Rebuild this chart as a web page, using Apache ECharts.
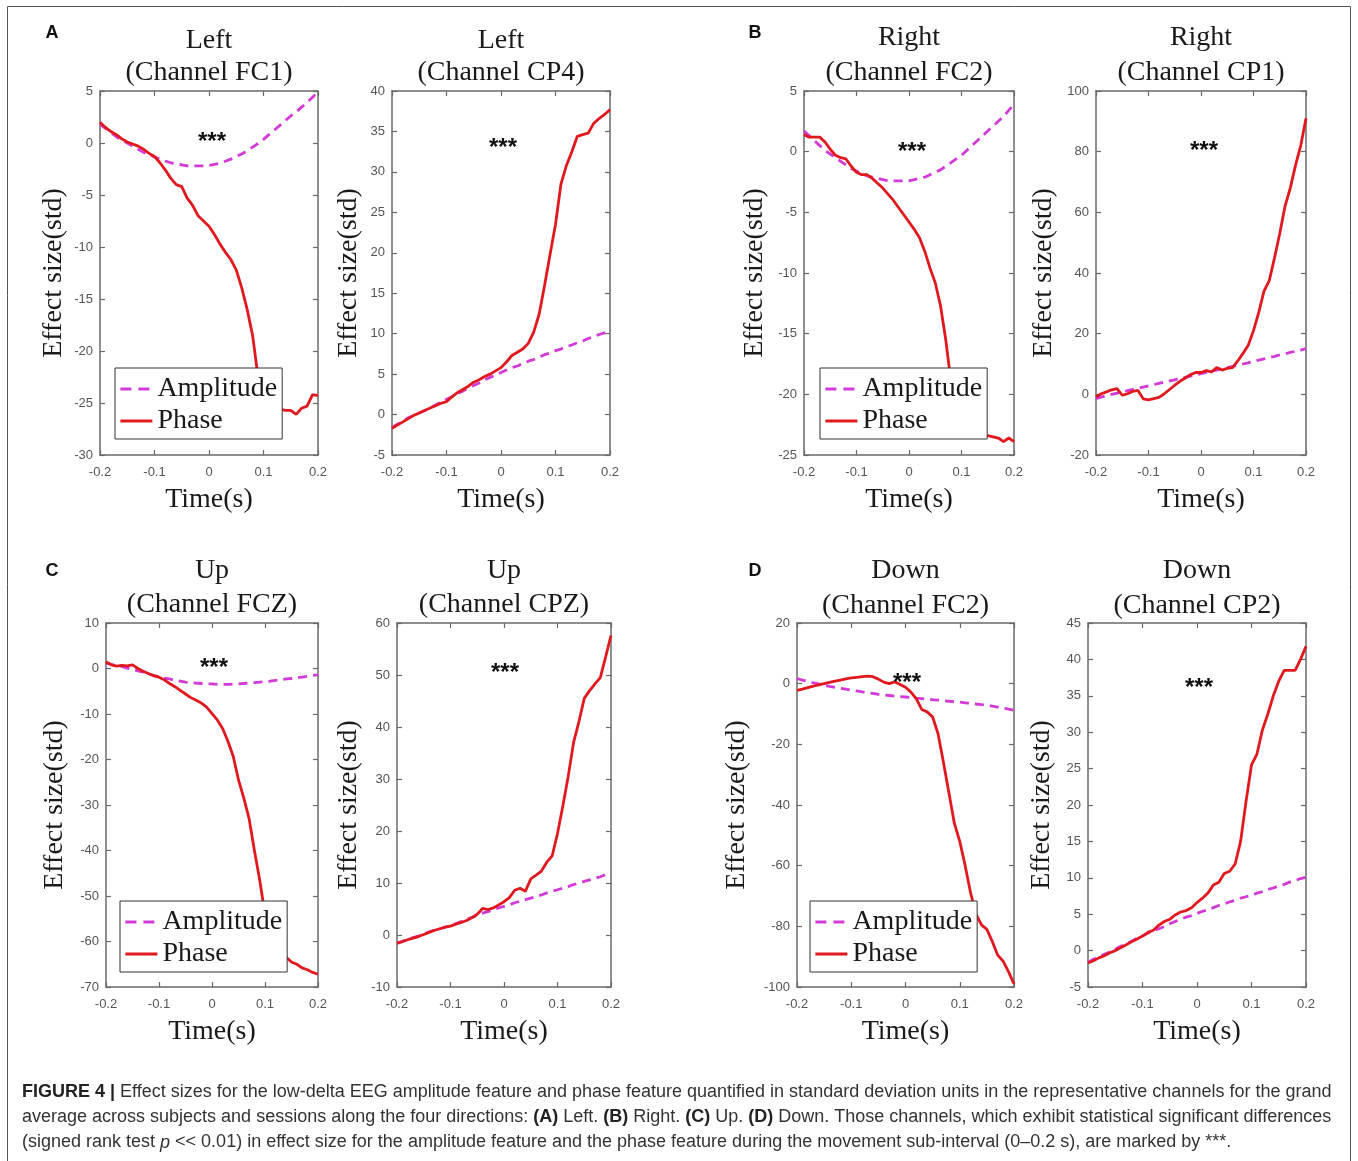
<!DOCTYPE html>
<html>
<head>
<meta charset="UTF-8" />
<title>Figure 4</title>
<style>
  * { margin: 0; padding: 0; }
  html, body { width: 100vw; height: 100vh; background: #fff; }
  .main { width: 1358px; height: 1161px; }
</style>
</head>
<body>
<div class="main"></div>
<script src="https://cdn.jsdelivr.net/npm/echarts@6/dist/echarts.min.js"></script>
<script>
// ---- data ----
var time = [-0.2, -0.19, -0.18, -0.17, -0.16, -0.15, -0.14, -0.13, -0.12, -0.11,
            -0.1, -0.09, -0.08, -0.07, -0.06, -0.05, -0.04, -0.03, -0.02, -0.01,
            0, 0.01, 0.02, 0.03, 0.04, 0.05, 0.06, 0.07, 0.08, 0.09,
            0.1, 0.11, 0.12, 0.13, 0.14, 0.15, 0.16, 0.17, 0.18, 0.19, 0.2];

var directions = ["Left", "Left", "Right", "Right", "Up", "Up", "Down", "Down"];
var channels = ["FC1", "CP4", "FC2", "CP1", "FCZ", "CPZ", "FC2", "CP2"];
var panelLetters = ["A", "B", "C", "D"];
var yMin = [-30, -5, -25, -20, -70, -10, -100, -5];
var yMax = [5, 40, 5, 100, 10, 60, 20, 45];
var yStep = [5, 5, 5, 20, 10, 10, 20, 5];
var seriesNames = ["Amplitude", "Phase"];

var ampLeftFC1 = [1.8, 1.4, 1.0, 0.6, 0.3, 0.0, -0.3, -0.6, -0.9, -1.1,
  -1.35, -1.55, -1.75, -1.9, -2.0, -2.1, -2.2, -2.2, -2.2, -2.2,
  -2.15, -2.05, -1.95, -1.75, -1.55, -1.3, -1.05, -0.75, -0.4, -0.05,
  0.35, 0.8, 1.25, 1.7, 2.15, 2.6, 3.0, 3.45, 3.9, 4.4, 4.9];
var phaseLeftFC1 = [2.0, 1.5, 1.1, 0.8, 0.4, 0.1, -0.1, -0.3, -0.6, -1.0,
  -1.3, -1.9, -2.6, -3.4, -4.0, -4.2, -5.3, -6.0, -7.0, -7.5,
  -8.0, -8.8, -9.7, -10.5, -11.2, -12.2, -13.9, -16.0, -18.5, -22.5,
  -24.0, -24.8, -25.3, -25.6, -25.7, -25.7, -26.1, -25.5, -25.3, -24.2, -24.3];

var ampLeftCP4 = [-1.6, -1.2, -0.8, -0.4, -0.1, 0.2, 0.5, 0.8, 1.2, 1.5,
  1.9, 2.2, 2.6, 2.9, 3.3, 3.6, 3.9, 4.3, 4.6, 4.9,
  5.2, 5.5, 5.8, 6.0, 6.3, 6.6, 6.8, 7.1, 7.4, 7.6,
  7.9, 8.1, 8.4, 8.6, 8.9, 9.1, 9.4, 9.6, 9.9, 10.1, 10.3];
var phaseLeftCP4 = [-1.7, -1.3, -0.9, -0.5, -0.1, 0.2, 0.5, 0.8, 1.1, 1.4,
  1.6, 2.2, 2.7, 3.1, 3.5, 4.0, 4.3, 4.7, 5.0, 5.4,
  5.8, 6.5, 7.3, 7.7, 8.1, 8.8, 10.2, 12.4, 16.0, 19.8,
  23.5, 28.5, 30.8, 32.5, 34.4, 34.6, 34.8, 36.0, 36.6, 37.1, 37.7];

var ampRightFC2 = [1.7, 1.3, 0.9, 0.5, 0.1, -0.2, -0.5, -0.8, -1.1, -1.4,
  -1.6, -1.8, -2.0, -2.1, -2.2, -2.3, -2.4, -2.4, -2.4, -2.4,
  -2.4, -2.3, -2.2, -2.1, -1.9, -1.7, -1.5, -1.2, -0.9, -0.6,
  -0.3, 0.1, 0.5, 0.9, 1.3, 1.7, 2.1, 2.5, 2.9, 3.4, 3.9];
var phaseRightFC2 = [1.4, 1.2, 1.2, 1.2, 0.8, 0.2, -0.3, -0.5, -0.6, -1.2,
  -1.7, -1.9, -1.9, -2.2, -2.6, -3.0, -3.5, -4.0, -4.6, -5.2,
  -5.8, -6.4, -7.1, -8.2, -9.6, -10.8, -12.7, -15.5, -19.0, -21.5,
  -22.6, -23.0, -23.2, -23.3, -23.4, -23.4, -23.5, -23.6, -23.9, -23.6, -23.9];

var ampRightCP1 = [-1.4, -0.9, -0.4, 0.0, 0.4, 0.8, 1.2, 1.6, 2.0, 2.4,
  2.8, 3.2, 3.6, 4.0, 4.4, 4.8, 5.2, 5.6, 6.0, 6.4,
  6.8, 7.2, 7.6, 8.0, 8.4, 8.8, 9.2, 9.6, 10.0, 10.4,
  10.9, 11.3, 11.7, 12.1, 12.5, 13.0, 13.4, 13.8, 14.2, 14.6, 15.1];
var phaseRightCP1 = [-0.9, 0.2, 0.8, 1.5, 1.9, -0.3, 0.2, 1.0, 1.3, -1.5,
  -1.8, -1.4, -1.0, 0.2, 1.6, 3.0, 4.3, 5.4, 6.5, 7.2,
  7.2, 7.8, 7.4, 8.8, 8.0, 8.6, 8.8, 11.0, 13.5, 16.2,
  21.0, 27.0, 34.0, 37.5, 45.0, 53.0, 62.0, 68.0, 75.5, 82.0, 91.0];

var ampUpFCZ = [1.2, 0.9, 0.6, 0.4, 0.1, -0.2, -0.5, -0.8, -1.2, -1.5,
  -1.8, -2.1, -2.3, -2.6, -2.8, -3.0, -3.1, -3.2, -3.3, -3.4,
  -3.4, -3.5, -3.5, -3.5, -3.4, -3.4, -3.3, -3.2, -3.1, -3.0,
  -2.9, -2.8, -2.6, -2.5, -2.3, -2.2, -2.0, -1.9, -1.7, -1.5, -1.4];
var phaseUpFCZ = [1.5, 0.8, 0.5, 0.7, 0.6, 0.8, 0.0, -0.6, -1.1, -1.6,
  -1.9, -2.5, -3.3, -4.0, -4.8, -5.6, -6.4, -7.0, -7.6, -8.5,
  -9.9, -11.3, -13.2, -16.0, -19.3, -24.5, -28.5, -33.0, -40.0, -46.5,
  -54.0, -58.5, -61.0, -62.5, -63.5, -64.5, -65.0, -65.8, -66.2, -66.8, -67.2];

var ampUpCPZ = [-1.5, -1.2, -0.8, -0.5, -0.2, 0.2, 0.6, 0.9, 1.2, 1.5,
  1.8, 2.2, 2.6, 3.0, 3.4, 3.8, 4.2, 4.5, 4.9, 5.2,
  5.5, 5.8, 6.2, 6.5, 6.8, 7.1, 7.4, 7.7, 8.1, 8.4,
  8.7, 9.0, 9.3, 9.7, 10.0, 10.3, 10.6, 10.9, 11.2, 11.6, 11.9];
var phaseUpCPZ = [-1.6, -1.3, -0.9, -0.6, -0.3, 0.1, 0.5, 0.9, 1.2, 1.5,
  1.7, 2.1, 2.4, 2.8, 3.3, 4.0, 5.1, 4.9, 5.2, 5.8,
  6.4, 7.2, 8.6, 9.0, 8.4, 10.8, 11.5, 12.3, 14.0, 15.2,
  19.5, 24.8, 30.5, 37.0, 41.0, 45.5, 47.0, 48.3, 49.5, 53.5, 57.6];

var ampDownFC2 = [1.7, 1.2, 0.7, 0.3, -0.1, -0.5, -0.9, -1.2, -1.5, -1.8,
  -2.1, -2.4, -2.7, -3.0, -3.2, -3.5, -3.7, -3.9, -4.1, -4.3,
  -4.4, -4.6, -4.8, -4.9, -5.1, -5.3, -5.4, -5.6, -5.8, -5.9,
  -6.1, -6.3, -6.5, -6.7, -6.9, -7.1, -7.4, -7.7, -8.0, -8.4, -8.8];
var phaseDownFC2 = [-2.2, -1.8, -1.3, -0.8, -0.4, 0.0, 0.4, 0.8, 1.2, 1.6,
  1.9, 2.1, 2.3, 2.5, 2.3, 1.5, 0.5, 0.0, 0.6, -0.3,
  -1.2, -2.8, -5.0, -8.5, -9.3, -11.0, -16.5, -26.0, -36.0, -46.0,
  -52.0, -60.0, -69.0, -76.0, -79.5, -81.0, -85.0, -89.5, -91.5, -95.0, -99.0];

var ampDownCP2 = [-1.6, -1.2, -0.9, -0.5, -0.2, 0.2, 0.6, 0.9, 1.3, 1.7,
  2.0, 2.4, 2.7, 3.0, 3.3, 3.7, 4.0, 4.3, 4.6, 4.8,
  5.1, 5.4, 5.6, 5.9, 6.2, 6.4, 6.7, 6.9, 7.2, 7.4,
  7.6, 7.9, 8.1, 8.4, 8.6, 8.9, 9.1, 9.4, 9.6, 9.9, 10.1];
var phaseDownCP2 = [-1.7, -1.4, -1.0, -0.7, -0.3, 0.0, 0.4, 0.8, 1.2, 1.6,
  2.0, 2.5, 2.8, 3.5, 4.0, 4.3, 4.9, 5.3, 5.5, 5.9,
  6.6, 7.2, 7.9, 9.0, 9.4, 10.6, 10.9, 11.9, 15.0, 20.5,
  25.5, 27.0, 30.3, 32.5, 35.0, 37.0, 38.5, 38.5, 38.5, 40.0, 41.8];

var ampData = [ampLeftFC1, ampLeftCP4, ampRightFC2, ampRightCP1, ampUpFCZ, ampUpCPZ, ampDownFC2, ampDownCP2];
var phaseData = [phaseLeftFC1, phaseLeftCP4, phaseRightFC2, phaseRightCP1, phaseUpFCZ, phaseUpCPZ, phaseDownFC2, phaseDownCP2];

// ---- layout ----
// plot boxes: left, top, width, height
var boxes = [
  [100, 91, 218, 364], [392, 91, 218, 364], [804, 91, 210, 364], [1096, 91, 210, 364],
  [106, 623, 212, 364], [397, 623, 214, 364], [797, 623, 217, 364], [1088, 623, 218, 364]
];
var yNameGap = [32, 29, 35, 38, 37, 34, 46, 32];
var titleY = [[41, 73], [41, 73], [38, 73], [38, 73], [571, 605], [571, 605], [571, 606], [571, 606]];
var starPos = [[212, 142], [503, 148], [912, 152], [1204, 151], [214, 668], [505, 673], [907, 683], [1199, 688]];
var letterPos = [[52, 33], [755, 33], [52, 571], [755, 571]];
var legendPos = [[115, 368], [820, 368], [120, 901], [810, 901]];

var SERIF = "'Liberation Serif', 'DejaVu Serif', serif";
var SANS = "'Liberation Sans', Arial, sans-serif";
var AXIS_COLOR = "#6a6a6a";
var RED = "#e1191f";
var MAGENTA = "#d43ad8";

var grids = [], xAxes = [], yAxes = [], series = [], legends = [], graphics = [];

function tickFmt(v) {
  return String(+(+v).toFixed(2));
}

boxes.forEach(function (b, i) {
  grids.push({ left: b[0], top: b[1], width: b[2], height: b[3], outerBoundsMode: "none", containLabel: false });

  ["bottom", "top"].forEach(function (pos) {
    xAxes.push({
      type: "value", gridIndex: i, position: pos,
      min: -0.2, max: 0.2, interval: 0.1,
      axisLine: { show: true, onZero: false, lineStyle: { color: AXIS_COLOR, width: 1.5 } },
      axisTick: { show: true, inside: true, length: 5, lineStyle: { color: AXIS_COLOR, width: 1.2 } },
      axisLabel: {
        show: pos === "bottom", margin: 11, color: "#555", fontSize: 13, fontFamily: SANS,
        showMinLabel: true, showMaxLabel: true, formatter: tickFmt
      },
      splitLine: { show: false },
      name: pos === "bottom" ? "Time(s)" : "",
      nameLocation: "middle", nameGap: 31,
      nameTextStyle: { fontFamily: SERIF, fontSize: 28, color: "#1a1a1a" }
    });
  });

  ["left", "right"].forEach(function (pos) {
    yAxes.push({
      type: "value", gridIndex: i, position: pos,
      min: yMin[i], max: yMax[i], interval: yStep[i],
      axisLine: { show: true, onZero: false, lineStyle: { color: AXIS_COLOR, width: 1.5 } },
      axisTick: { show: true, inside: true, length: 5, lineStyle: { color: AXIS_COLOR, width: 1.2 } },
      axisLabel: {
        show: pos === "left", margin: 7, color: "#555", fontSize: 13, fontFamily: SANS,
        showMinLabel: true, showMaxLabel: true
      },
      splitLine: { show: false },
      name: pos === "left" ? "Effect size(std)" : "",
      nameLocation: "middle", nameGap: yNameGap[i],
      nameTextStyle: { fontFamily: SERIF, fontSize: 28, color: "#1a1a1a" }
    });
  });

  series.push({
    name: seriesNames[0], type: "line", xAxisIndex: 2 * i, yAxisIndex: 2 * i,
    data: time.map(function (t, k) { return [t, ampData[i][k]]; }),
    showSymbol: false, symbol: "none", smooth: false, z: 2,
    lineStyle: { color: MAGENTA, width: 2.8, type: [9, 6] },
    itemStyle: { color: MAGENTA }
  });
  series.push({
    name: seriesNames[1], type: "line", xAxisIndex: 2 * i, yAxisIndex: 2 * i,
    data: time.map(function (t, k) { return [t, phaseData[i][k]]; }),
    showSymbol: false, symbol: "none", smooth: false, z: 3,
    lineStyle: { color: RED, width: 2.8 },
    itemStyle: { color: RED }
  });

  var cx = b[0] + b[2] / 2;
  graphics.push({
    type: "text", x: cx, y: titleY[i][0],
    style: { text: directions[i], font: "28px " + SERIF, fill: "#1a1a1a", textAlign: "center", textVerticalAlign: "middle" }
  });
  graphics.push({
    type: "text", x: cx, y: titleY[i][1],
    style: { text: "(Channel " + channels[i] + ")", font: "28px " + SERIF, fill: "#1a1a1a", textAlign: "center", textVerticalAlign: "middle" }
  });
  graphics.push({
    type: "text", x: starPos[i][0], y: starPos[i][1], z: 10,
    style: { text: "***", font: "bold 24px " + SANS, fill: "#111", textAlign: "center", textVerticalAlign: "middle" }
  });
});

letterPos.forEach(function (p, i) {
  graphics.push({
    type: "text", x: p[0], y: p[1],
    style: { text: panelLetters[i], font: "bold 18px " + SANS, fill: "#111", textAlign: "center", textVerticalAlign: "middle" }
  });
});

legendPos.forEach(function (p) {
  legends.push({
    left: p[0], top: p[1], orient: "vertical",
    data: [
      { name: seriesNames[0], lineStyle: { width: 2.8, type: [11, 7] } },
      { name: seriesNames[1], lineStyle: { width: 2.8 } }
    ],
    itemWidth: 32, itemHeight: 14, itemGap: 4,
    padding: [7, 5, 4, 4],
    backgroundColor: "#fff", borderColor: "#333", borderWidth: 1, borderRadius: 0,
    selectedMode: false, z: 6,
    itemStyle: { opacity: 0 },
    textStyle: { fontFamily: SERIF, fontSize: 28, color: "#1a1a1a" }
  });
});

// figure frame and caption
graphics.push({
  type: "rect", shape: { x: 7.5, y: 6.5, width: 1343, height: 1160 },
  style: { fill: "none", stroke: "#555", lineWidth: 1 }
});
graphics.push({
  type: "text", x: 22, y: 1080,
  style: {
    text: "{b|FIGURE 4 |} Effect sizes for the low-delta EEG amplitude feature and phase feature quantified in standard deviation units in the representative channels for the grand\n" +
          "average across subjects and sessions along the four directions: {b|(A)} Left. {b|(B)} Right. {b|(C)} Up. {b|(D)} Down. Those channels, which exhibit statistical significant differences\n" +
          "(signed rank test {i|p} << 0.01) in effect size for the amplitude feature and the phase feature during the movement sub-interval (0\u20130.2 s), are marked by ***.",
    font: "18px " + SANS, fill: "#333", lineHeight: 25,
    rich: {
      b: { fontWeight: "bold", fontSize: 18, fontFamily: SANS, fill: "#222", lineHeight: 25 },
      i: { fontStyle: "italic", fontSize: 18, fontFamily: SANS, fill: "#333", lineHeight: 25 }
    }
  }
});

var myChart = echarts.init(document.querySelector(".main"), null, { renderer: "canvas" });
myChart.setOption({
  animation: false,
  backgroundColor: "#fff",
  grid: grids,
  xAxis: xAxes,
  yAxis: yAxes,
  legend: legends,
  series: series,
  graphic: graphics
});
</script>
</body>
</html>
